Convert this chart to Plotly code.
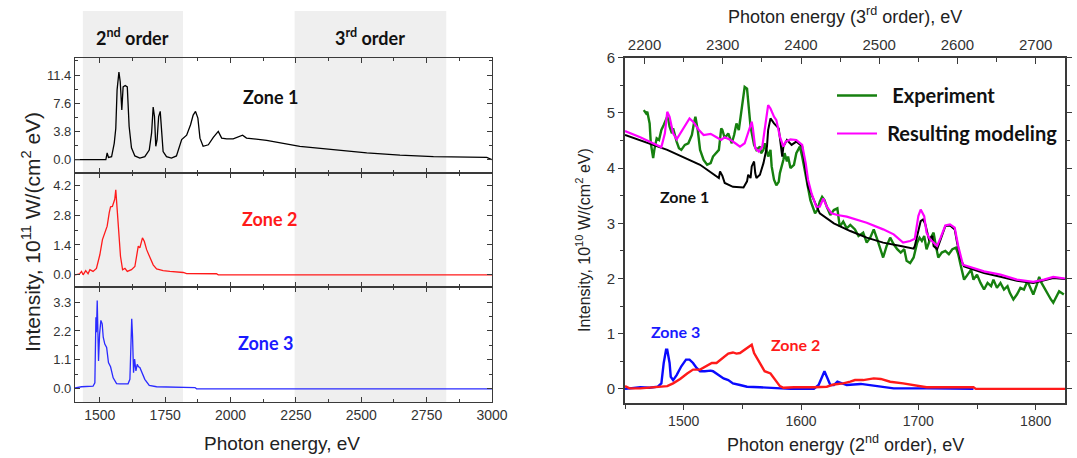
import plotly.graph_objects as go

# ---------------- data: left panel (photon energy, eV ; intensity 1e11 W/(cm2 eV)) -------------
zone1_E = [1405,1506,1523,1528,1533,1545,1555,1561,1566,1573,1578,1584,1589,1597,1605,1612,1621,1634,1653,1672,
           1689,1698,1704,1709,1714,1719,1725,1731,1736,1742,1755,1774,1793,1813,1832,1847,1857,1866,1875,1883,
           1895,1915,1934,1953,1966,1985,2010,2036,2046,2061,2138,2265,2393,2521,2648,2776,2980,3000]
zone1_I = [0.0,0.0,0.0,0.9,0.3,0.4,2.2,4.2,9.4,11.8,10.5,6.7,9.8,10.0,9.8,4.5,1.6,0.5,0.2,0.4,
           1.3,3.6,7.1,5.8,1.8,2.7,5.8,6.5,4.0,1.1,0.4,0.2,0.5,2.7,3.3,4.7,6.0,6.5,5.6,2.9,
           1.8,2.0,3.0,3.8,2.9,2.8,2.8,3.2,3.3,2.9,2.6,1.8,1.3,0.9,0.6,0.4,0.3,0.0]

zone2_E = [1405,1423,1430,1436,1446,1455,1462,1474,1487,1500,1510,1519,1528,1536,1541,1548,1557,1561,1566,1574,
           1579,1587,1596,1605,1621,1634,1640,1647,1653,1663,1670,1679,1691,1704,1717,1742,1768,1819,1832,1946,
           1953,3000]
zone2_I = [0,0.05,0.16,0,0.2,0.05,0.24,0.16,0.3,0.94,1.65,1.97,2.28,2.91,3.19,3.2,3.54,3.98,3.07,2.12,
           0.87,0.24,0.3,0.16,0.24,0.39,0.94,1.34,1.26,1.73,1.57,1.18,0.83,0.47,0.28,0.2,0.16,0.11,0.06,0.05,
           0,0]

zone3_E = [1405,1430,1474,1481,1485,1487,1490,1492,1495,1499,1504,1509,1513,1519,1526,1533,1541,1551,1564,1577,
           1608,1615,1619,1622,1625,1629,1633,1638,1643,1648,1653,1663,1672,1689,1717,1864,1870,3000]
zone3_I = [0.04,0.08,0.1,0.23,2.72,2.15,3.36,2.02,1.06,2.08,2.6,2.47,1.96,1.7,1.57,1.0,0.84,0.42,0.2,0.19,
           0.19,0.36,2.28,2.66,2.02,0.61,1.13,0.68,0.93,0.84,0.81,0.55,0.36,0.13,0.08,0.05,0,0]

order_bands = [(1435, 1818, "2<sup>nd</sup> order"), (2245, 2825, "3<sup>rd</sup> order")]

# ---------------- data: right panel (2nd-order energy, eV ; intensity 1e10 W/(cm2 eV)) ---------
exp_E = [1466,1468,1469,1471,1472,1474,1475,1477,1479,1481,1483,1486,1487,1488,1490,1491,1494,1496,1498,1501,
         1504,1507,1509,1510,1512,1514,1517,1520,1523,1525,1530,1532,1533,1535,1538,1541,1543,1545,1547,1548,
         1550,1552,1554,1555,1557,1560,1562,1565,1566,1568,1569,1571,1572,1574,1575,1577,1579,1581,1582,1585,
         1586,1588,1589,1591,1594,1596,1598,1599,1601,1604,1606,1608,1610,1612,1614,1616,1618,1620,1622,1625,
         1628,1631,1633,1636,1639,1642,1646,1649,1653,1656,1659,1662,1665,1668,1670,1673,1676,1679,1682,1685,
         1688,1690,1693,1696,1699,1701,1703,1705,1707,1710,1713,1715,1717,1720,1723,1726,1729,1732,1734,1736,
         1739,1742,1745,1747,1750,1753,1756,1759,1762,1764,1767,1770,1773,1776,1778,1781,1784,1787,1790,1793,
         1795,1798,1801,1803,1805,1808,1810,1813,1815,1818,1820,1824]
exp_I = [5.05,4.99,5.02,4.81,4.45,4.18,4.33,4.54,4.51,4.69,4.78,4.93,4.87,4.75,4.63,4.72,4.48,4.36,4.33,4.42,
         4.45,4.60,4.84,4.93,4.69,4.33,4.15,4.06,4.09,4.21,4.33,4.72,4.69,4.54,4.63,4.45,4.60,4.81,4.69,4.84,
         5.11,5.47,5.44,5.17,4.75,4.42,4.33,4.39,4.27,4.33,4.45,4.30,4.21,4.33,4.03,3.79,3.69,3.75,3.91,4.15,
         4.27,4.12,4.21,4.00,4.06,4.27,4.36,4.39,4.21,3.85,3.60,3.42,3.30,3.18,3.24,3.39,3.48,3.42,3.30,3.15,
         3.24,3.27,2.94,3.03,2.91,2.97,2.89,2.77,2.83,2.65,2.74,2.89,2.71,2.53,2.38,2.59,2.74,2.62,2.53,2.47,
         2.53,2.32,2.28,2.38,2.65,2.74,2.68,2.77,2.53,2.71,2.83,2.59,2.38,2.47,2.50,2.44,2.53,2.56,2.44,2.25,
         1.98,2.07,2.16,1.98,2.07,1.92,1.80,1.92,1.86,1.98,1.83,1.92,1.80,1.86,1.74,1.62,1.71,1.83,1.80,1.95,
         1.86,1.71,1.89,2.03,1.92,1.80,1.74,1.62,1.56,1.68,1.77,1.71]

model_E = [1450,1463,1477,1481,1484,1486,1488,1491,1494,1498,1503,1505,1508,1513,1517,1523,1528,1532,1535,1540,
           1544,1548,1552,1555,1558,1559,1561,1564,1567,1569,1572,1574,1577,1579,1582,1585,1587,1591,1596,1601,
           1604,1606,1609,1613,1616,1619,1622,1626,1631,1639,1648,1656,1670,1679,1687,1693,1697,1700,1702,1705,
           1707,1710,1713,1716,1719,1723,1727,1731,1734,1738,1756,1770,1784,1798,1807,1815,1825]
model_I = [4.67,4.56,4.42,4.38,4.63,5.02,4.93,4.63,4.52,4.66,4.82,4.90,4.84,4.69,4.60,4.62,4.56,4.51,4.56,4.51,
           4.45,4.39,4.45,4.63,4.84,4.72,4.36,4.30,4.39,4.69,5.14,5.08,4.93,4.87,4.57,4.39,4.48,4.52,4.51,4.42,
           4.09,3.79,3.54,3.30,3.30,3.45,3.30,3.18,3.15,3.12,3.06,3.01,2.89,2.80,2.65,2.68,2.72,3.13,3.25,3.13,
           2.83,2.71,2.65,2.59,2.74,2.96,2.98,2.92,2.59,2.25,2.13,2.07,1.98,1.94,1.98,2.03,2.0]

rz1_E = [1450,1486,1514,1528,1530,1531,1533,1535,1542,1551,1554,1555,1557,1558,1560,1561,1562,1565,1568,1571,
         1572,1574,1577,1581,1584,1585,1588,1592,1596,1601,1604,1606,1611,1616,1628,1642,1656,1670,1685,1696,
         1697,1699,1702,1704,1706,1709,1712,1713,1716,1719,1723,1727,1731,1733,1736,1739,1756,1770,1784,1798,
         1804,1815,1825]
rz1_I = [4.60,4.33,4.06,3.86,3.82,3.94,3.86,3.73,3.66,3.65,3.76,3.88,3.82,4.03,4.12,3.91,3.82,3.88,4.09,4.39,
         4.69,4.90,4.81,4.72,4.21,4.39,4.51,4.42,4.48,4.39,3.97,3.66,3.42,3.18,3.0,2.86,2.74,2.65,2.59,2.54,
         2.59,2.77,3.04,3.07,2.98,2.71,2.77,2.59,2.53,2.71,2.95,2.96,2.89,2.65,2.35,2.22,2.10,2.03,1.96,1.92,
         1.95,2.01,1.99]

rz3_E = [1450,1463,1471,1478,1481,1483,1485,1486,1488,1489,1491,1494,1498,1502,1505,1508,1511,1514,1518,1523,
         1525,1530,1534,1538,1542,1548,1554,1565,1577,1591,1611,1615,1618,1620,1622,1625,1628,1631,1635,1639,
         1651,1665,1679,1707,1747]
rz3_I = [0.0,0.03,0.02,0.04,0.10,0.47,0.71,0.71,0.47,0.22,0.16,0.25,0.41,0.53,0.53,0.47,0.38,0.32,0.32,0.33,
         0.32,0.25,0.19,0.16,0.10,0.07,0.04,0.03,0.01,0.0,0.0,0.07,0.22,0.32,0.22,0.07,0.07,0.13,0.10,0.07,
         0.09,0.05,0.01,0.01,0.0]

rz2_E = [1450,1454,1463,1471,1480,1486,1491,1497,1503,1508,1514,1520,1524,1528,1531,1535,1538,1542,1545,1548,
         1552,1556,1558,1560,1564,1567,1569,1574,1578,1582,1585,1594,1611,1622,1628,1636,1642,1646,1653,1662,
         1668,1676,1687,1699,1707,1747,1749,1825]
rz2_I = [0.05,0.01,0.01,0.02,0.03,0.05,0.10,0.18,0.28,0.35,0.35,0.42,0.47,0.47,0.52,0.59,0.64,0.66,0.64,0.65,
         0.71,0.77,0.80,0.65,0.50,0.41,0.32,0.28,0.16,0.05,0.02,0.03,0.03,0.04,0.08,0.10,0.13,0.16,0.16,0.19,
         0.18,0.13,0.10,0.05,0.03,0.03,0.0,0.0]

# ---------------- styling ----------------
TICKFONT = dict(family="Liberation Sans, Arial", size=13, color="#333")
TITLEFONT = "Liberation Sans, Arial"
BOLDFONT = "Lato, Open Sans, sans-serif"
LINE = "#3a3a3a"
GREEN, MAGENTA, RED, BLUE = "#16800f", "#ff00ff", "#ff1a1a", "#1a1aff"

W, H = 1077, 458
def px_x(p): return p / W
def px_y(p): return 1 - p / H

LX = [px_x(75), px_x(492)]
P1 = [px_y(173), px_y(58)]
P2 = [px_y(287), px_y(173)]
P3 = [px_y(402), px_y(287)]
RX = [px_x(625), px_x(1065)]
RY = [px_y(402.7), px_y(57.7)]

fig = go.Figure()

lw = 1.3
fig.add_trace(go.Scatter(x=zone1_E, y=zone1_I, mode="lines", line=dict(color="black", width=lw),
                         xaxis="x", yaxis="y", showlegend=False))
fig.add_trace(go.Scatter(x=zone2_E, y=zone2_I, mode="lines", line=dict(color=RED, width=lw),
                         xaxis="x2", yaxis="y2", showlegend=False))
fig.add_trace(go.Scatter(x=zone3_E, y=zone3_I, mode="lines", line=dict(color="#2a2aff", width=lw),
                         xaxis="x3", yaxis="y3", showlegend=False))

fig.add_trace(go.Scatter(x=exp_E, y=exp_I, mode="lines", name="&nbsp;&nbsp;<b>Experiment</b>", legendgroup="a",
                         line=dict(color=GREEN, width=2.4), xaxis="x4", yaxis="y4"))
fig.add_trace(go.Scatter(x=rz1_E, y=rz1_I, mode="lines", line=dict(color="black", width=2),
                         xaxis="x4", yaxis="y4", showlegend=False))
fig.add_trace(go.Scatter(x=model_E, y=model_I, mode="lines", name="&nbsp;<b>Resulting modeling</b>",
                         legendgroup="b", line=dict(color=MAGENTA, width=2.2), xaxis="x4", yaxis="y4"))
fig.add_trace(go.Scatter(x=rz3_E, y=rz3_I, mode="lines", line=dict(color="#0a0aff", width=2.4),
                         xaxis="x4", yaxis="y4", showlegend=False))
fig.add_trace(go.Scatter(x=rz2_E, y=rz2_I, mode="lines", line=dict(color=RED, width=2.4),
                         xaxis="x4", yaxis="y4", showlegend=False))
# binds the top (3rd order) axis
fig.add_trace(go.Scatter(x=[None], y=[None], mode="lines", xaxis="x5", yaxis="y4",
                         showlegend=False, hoverinfo="skip"))

def xax(domain, anchor, rng, labels, dtick, minor, ticks="inside"):
    return dict(domain=domain, anchor=anchor, range=rng, showline=True, linecolor=LINE, linewidth=1.3,
                mirror="ticks", ticks=ticks, ticklen=5, tickcolor=LINE, tickwidth=1.2, automargin=False,
                dtick=dtick, tick0=1500, showticklabels=labels, tickfont=dict(TICKFONT, size=14),
                showgrid=False, zeroline=False,
                minor=dict(dtick=minor, ticks=ticks, ticklen=3, tickcolor=LINE, showgrid=False))

def yax(domain, anchor, rng, dtick, fmt=".1f", size=13):
    return dict(domain=domain, anchor=anchor, range=rng, showline=True, linecolor=LINE, linewidth=1.3,
                mirror="ticks", ticks="inside", ticklen=5, tickcolor=LINE, tickwidth=1.2, automargin=False,
                tick0=0, dtick=dtick, tickformat=fmt, tickfont=dict(TICKFONT, size=size),
                showgrid=False, zeroline=False,
                minor=dict(dtick=dtick / 2, ticks="inside", ticklen=3, tickcolor=LINE, showgrid=False))

layout = dict(
    width=W, height=H, margin=dict(l=0, r=0, t=0, b=0, autoexpand=False),
    paper_bgcolor="white", plot_bgcolor="rgba(0,0,0,0)",
    xaxis=xax(LX, "y", [1405, 3000], False, 250, 125),
    xaxis2=xax(LX, "y2", [1405, 3000], False, 250, 125),
    xaxis3=xax(LX, "y3", [1405, 3000], True, 250, 125),
    yaxis=yax(P1, "x", [-1.8, 13.7], 3.8),
    yaxis2=yax(P2, "x2", [-0.57, 4.77], 1.4),
    yaxis3=yax(P3, "x3", [-0.5, 3.87], 1.1),
    xaxis4=dict(domain=RX, anchor="y4", range=[1450, 1825], showline=True, mirror=True, linecolor=LINE,
                linewidth=1.6, ticks="outside", ticklen=5, tickcolor=LINE, tickwidth=1.2, tick0=1500, dtick=100,
                tickfont=dict(TICKFONT, size=14), showgrid=False, zeroline=False, automargin=False,
                minor=dict(dtick=50, ticks="outside", ticklen=4, tickcolor=LINE)),
    xaxis5=dict(overlaying="x4", anchor="y4", side="top", range=[2175, 2737.5], showline=True,
                linecolor=LINE, linewidth=1.6, ticks="inside", ticklen=6, tickcolor=LINE, tickwidth=1.2,
                tick0=2200, dtick=100, tickfont=dict(TICKFONT, size=15), showgrid=False, zeroline=False,
                automargin=False, minor=dict(dtick=50, ticks="inside", ticklen=4, tickcolor=LINE)),
    yaxis4=dict(domain=RY, anchor="x4", range=[-0.25, 6], showline=True, mirror="ticks", linecolor=LINE,
                linewidth=1.6, ticks="outside", ticklen=5, tickcolor=LINE, tickwidth=1.2, tick0=0, dtick=1,
                tickfont=dict(TICKFONT, size=15), showgrid=False, zeroline=False, automargin=False,
                minor=dict(dtick=0.5, ticks="outside", ticklen=3, tickcolor=LINE)),
    legend=dict(x=px_x(832), y=px_y(76), xanchor="left", yanchor="top", bgcolor="rgba(0,0,0,0)",
                font=dict(family=BOLDFONT, size=20, color="#111"), tracegroupgap=9, itemwidth=40),
    showlegend=True,
)
fig.update_layout(**layout)

# shaded order bands (left panel, extend above the plot)
shapes = []
annotations = []
for x0, x1, label in order_bands:
    shapes.append(dict(type="rect", xref="x", yref="paper", x0=x0, x1=x1, y0=P3[0], y1=px_y(11),
                       fillcolor="#efefef", line=dict(width=0), layer="below"))
    annotations.append(dict(xref="x", yref="paper", x=(x0 + x1) / 2, y=px_y(37), xanchor="center",
                            yanchor="middle", text="<b>" + label + "</b>", showarrow=False,
                            font=dict(family=BOLDFONT, size=18, color="#111")))
fig.update_layout(shapes=shapes)

def zlabel(text, color, xref, yref, x, y, size=18):
    return dict(xref=xref, yref=yref, x=x, y=y, text="<b>" + text + "</b>", showarrow=False,
                xanchor="center", yanchor="middle", font=dict(family=BOLDFONT, size=size, color=color))

def title(text, x, y, size, angle=0):
    return dict(xref="paper", yref="paper", x=px_x(x), y=px_y(y), xanchor="center", yanchor="middle",
                textangle=angle, showarrow=False, text=text,
                font=dict(family=TITLEFONT, size=size, color="#222"))

annotations += [
    zlabel("Zone 1", "#111", "x", "y", 2154, 8.4),
    zlabel("Zone 2", RED, "x2", "y2", 2150, 2.6),
    zlabel("Zone 3", "#1a1aff", "x3", "y3", 2135, 1.76),
    zlabel("Zone 1", "#111", "x4", "y4", 1501, 3.48, 16),
    zlabel("Zone 3", "#1a1aff", "x4", "y4", 1493, 1.04, 16),
    zlabel("Zone 2", RED, "x4", "y4", 1595, 0.80, 16),
    title("Intensity, 10<sup>11</sup> W/(cm<sup>2</sup> eV)", 31, 232, 21, -90),
    title("Intensity, 10<sup>10</sup> W/(cm<sup>2</sup> eV)", 583, 240, 16, -90),
    title("Photon energy, eV", 282, 443, 19),
    title("Photon energy (2<sup>nd</sup> order), eV", 845, 443, 18),
    title("Photon energy (3<sup>rd</sup> order), eV", 845, 15, 18),
]
fig.update_layout(annotations=annotations)

fig.write_html("out.html")
